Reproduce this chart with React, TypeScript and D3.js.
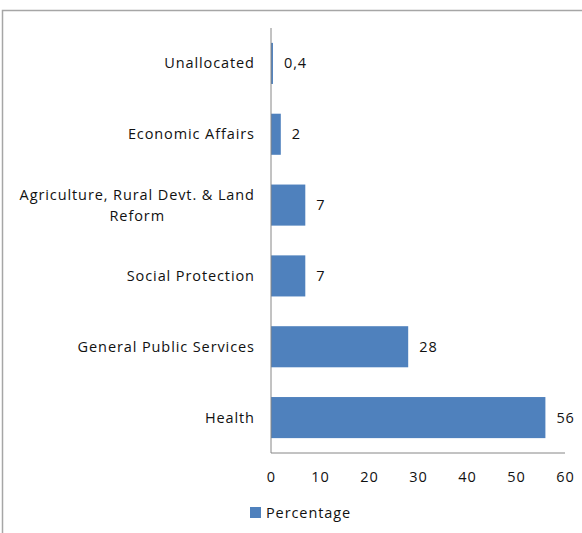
import * as d3 from 'd3';
import React, { useEffect, useRef } from 'react';

const categories = [
  'Unallocated',
  'Economic Affairs',
  'Agriculture, Rural Devt. & Land|Reform',
  'Social Protection',
  'General Public Services',
  'Health',
];
const values = [0.4, 2, 7, 7, 28, 56];
const valueLabels = ['0,4', '2', '7', '7', '28', '56'];
const xTicks = [0, 10, 20, 30, 40, 50, 60];
const seriesName = 'Percentage';

const FONT = '"Open Sans", sans-serif';
const FS = 14.5;
const LS = 0.9;

export default function App() {
  const ref = useRef<SVGSVGElement>(null);

  useEffect(() => {
    if (!ref.current) return;
    const width = 582;
    const height = 533;
    const margin = { top: 28, right: 17, bottom: 80, left: 271 };

    const svg = d3.select(ref.current);
    svg.selectAll('*').remove();
    svg.attr('width', width).attr('height', height);

    // chart frame (cut off on the right and bottom)
    svg.append('rect')
      .attr('x', 2.5).attr('y', 10.5)
      .attr('width', 600).attr('height', 600)
      .attr('fill', '#fff')
      .attr('stroke', '#a6a6a6')
      .attr('stroke-width', 1.5);

    const x = d3.scaleLinear().domain([0, 60]).range([margin.left, width - margin.right]);
    const y = d3.scaleBand<string>()
      .domain(categories)
      .range([margin.top, height - margin.bottom])
      .paddingInner(0.42)
      .paddingOuter(0.21);

    const g = svg.append('g');

    g.selectAll('rect.bar')
      .data(values)
      .enter()
      .append('rect')
      .attr('class', 'bar')
      .attr('x', x(0))
      .attr('y', (d, i) => y(categories[i])!)
      .attr('width', d => x(d) - x(0))
      .attr('height', y.bandwidth())
      .attr('fill', '#4f81bd');

    // axes
    const axisColor = '#868686';
    g.append('line')
      .attr('x1', x(0)).attr('x2', x(0))
      .attr('y1', margin.top).attr('y2', height - margin.bottom)
      .attr('stroke', axisColor);
    g.append('line')
      .attr('x1', x(0)).attr('x2', x(60))
      .attr('y1', height - margin.bottom).attr('y2', height - margin.bottom)
      .attr('stroke', axisColor);

    const txt = (sel: d3.Selection<SVGTextElement, any, any, any>) =>
      sel.attr('font-family', FONT)
        .attr('font-size', FS)
        .attr('letter-spacing', `${LS}px`)
        .attr('fill', '#111');

    g.selectAll('text.tick')
      .data(xTicks)
      .enter()
      .append('text')
      .attr('class', 'tick')
      .attr('x', d => x(d) + LS / 2)
      .attr('y', height - margin.bottom + 29)
      .attr('text-anchor', 'middle')
      .call(txt)
      .text(d => d);

    // category labels
    const cx = x(0) - 17 + LS;
    categories.forEach(c => {
      const lines = c.split('|');
      const mid = y(c)! + y.bandwidth() / 2;
      const t = g.append('text').call(txt);
      if (lines.length === 1) {
        t.attr('x', cx).attr('y', mid).attr('dy', '0.35em').attr('text-anchor', 'end').text(c);
      } else {
        const first = t.append('tspan').text(lines[0]);
        const len = (first.node() as SVGTSpanElement).getComputedTextLength();
        const center = cx - len / 2;
        t.attr('text-anchor', 'middle');
        first.attr('x', center).attr('y', mid - 10.5).attr('dy', '0.35em');
        t.append('tspan').attr('x', center).attr('y', mid + 10.5).attr('dy', '0.35em').text(lines[1]);
      }
    });

    // value labels
    g.selectAll('text.val')
      .data(values)
      .enter()
      .append('text')
      .attr('class', 'val')
      .attr('x', d => x(d) + 11)
      .attr('y', (d, i) => y(categories[i])! + y.bandwidth() / 2)
      .attr('dy', '0.35em')
      .call(txt)
      .text((d, i) => valueLabels[i]);

    // legend
    const legend = svg.append('g').attr('transform', 'translate(250, 507)');
    legend.append('rect').attr('width', 11).attr('height', 11).attr('fill', '#4f81bd');
    legend.append('text')
      .attr('x', 16).attr('y', 5.5).attr('dy', '0.35em')
      .call(txt)
      .text(seriesName);
  }, []);

  return <svg ref={ref} style={{ position: 'absolute', left: 0, top: 0 }} />;
}
